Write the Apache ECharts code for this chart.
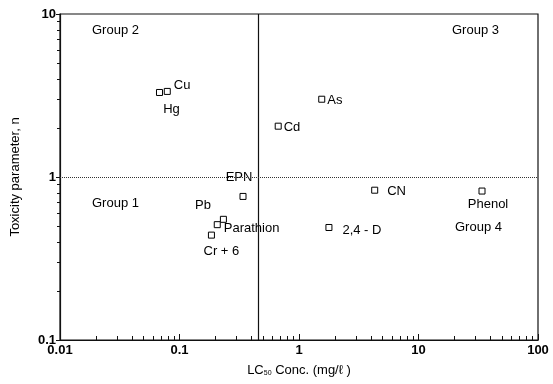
<!DOCTYPE html>
<html>
<head>
<meta charset="utf-8">
<script src="https://cdn.jsdelivr.net/npm/echarts@6/dist/echarts.min.js"></script>
<style>
  html, body { margin: 0; padding: 0; background: #fff; }
  #chart { width: 553px; height: 384px; }
</style>
</head>
<body>
<div id="chart"></div>
<script>
const names = ['Hg', 'Cu', 'As', 'Cd', 'EPN', 'Pb', 'Parathion', 'Cr+6', 'CN', '2,4-D', 'Phenol'];
const lc50 = [0.068, 0.079, 1.55, 0.67, 0.34, 0.233, 0.207, 0.185, 4.3, 1.78, 34];
const toxN = [3.3, 3.35, 3.0, 2.05, 0.76, 0.55, 0.51, 0.44, 0.83, 0.49, 0.82];
const groups = ['Group 1', 'Group 2', 'Group 3', 'Group 4'];
const splitLC50 = 0.46;
const splitN = 1;

const font = 'Liberation Sans, Arial, sans-serif';

const labelStyle = {
  'Hg': { position: 'bottom', offset: [12, 2] },
  'Cu': { position: 'right', offset: [-2, -6] },
  'As': { position: 'right', offset: [-3, 1] },
  'Cd': { position: 'right', offset: [-3, 1] },
  'EPN': { position: 'top', offset: [-4, -4] },
  'Pb': { position: 'left', offset: [-4, -14] },
  'Parathion': { position: 'right', offset: [-2, 4] },
  'Cr+6': { position: 'bottom', offset: [10, 1] },
  'CN': { position: 'right', offset: [4, 1] },
  '2,4-D': { position: 'right', offset: [5, 3] },
  'Phenol': { position: 'bottom', offset: [6, -2] }
};

const chart = echarts.init(document.getElementById('chart'));

const pts = names.map((n, i) => ({
  name: n,
  value: [lc50[i], toxN[i]],
  label: Object.assign({
    show: true,
    color: '#000',
    formatter: n === 'Cr+6' ? 'Cr + 6' : (n === '2,4-D' ? '2,4 - D' : '{b}')
  }, labelStyle[n])
}));

const groupText = (txt, left, top) => ({
  type: 'text', left: left, top: top,
  style: { text: txt, font: '13px ' + font, fill: '#000' }
});

chart.setOption({
  backgroundColor: '#fff',
  animation: false,
  grid: { left: 60, right: 15, top: 14, bottom: 44, show: true, borderColor: '#111', borderWidth: 1.2 },
  xAxis: {
    type: 'log', min: 0.01, max: 100, logBase: 10,
    name: '{a|LC}{s|50}{a| Conc. (mg/ℓ )}',
    nameLocation: 'middle', nameGap: 24,
    nameTextStyle: { rich: { a: { fontFamily: font, fontSize: 13, color: '#000' }, s: { fontFamily: font, fontSize: 7, color: '#000', verticalAlign: 'bottom', padding: [6, 0, 0, 0] } } },
    axisLine: { lineStyle: { color: '#111', width: 1.2 } },
    axisTick: { inside: true, length: 6, lineStyle: { color: '#111' } },
    minorTick: { show: true, splitNumber: 9, length: 4, lineStyle: { color: '#111' } },
    axisLabel: { color: '#000', fontFamily: font, fontSize: 13, fontWeight: 'bold', margin: 4 },
    splitLine: { show: false }
  },
  yAxis: {
    type: 'log', min: 0.1, max: 10, logBase: 10,
    name: 'Toxicity parameter, n',
    nameLocation: 'middle', nameGap: 38,
    nameTextStyle: { fontFamily: font, fontSize: 13, color: '#000' },
    axisLine: { lineStyle: { color: '#111', width: 1.2 } },
    axisTick: { inside: false, length: 4, lineStyle: { color: '#111' } },
    minorTick: { show: true, splitNumber: 9, length: 3, lineStyle: { color: '#111' } },
    axisLabel: { color: '#000', fontFamily: font, fontSize: 13, fontWeight: 'bold', margin: 4 },
    splitLine: { show: false }
  },
  graphic: [
    groupText(groups[1], 92, 24),
    groupText(groups[2], 452, 24),
    groupText(groups[0], 92, 197),
    groupText(groups[3], 455, 221)
  ],
  series: [{
    type: 'scatter',
    symbol: 'rect',
    symbolSize: 6,
    itemStyle: { color: '#fff', borderColor: '#000', borderWidth: 1, opacity: 1 },
    label: { color: '#000', fontFamily: font, fontSize: 13 },
    data: pts,
    markLine: {
      silent: true, symbol: 'none', label: { show: false },
      data: [
        { xAxis: splitLC50, lineStyle: { type: 'solid', color: '#111', width: 1.2 } },
        { yAxis: splitN, lineStyle: { type: 'dotted', color: '#333', width: 1 } }
      ]
    }
  }]
});
</script>
</body>
</html>
